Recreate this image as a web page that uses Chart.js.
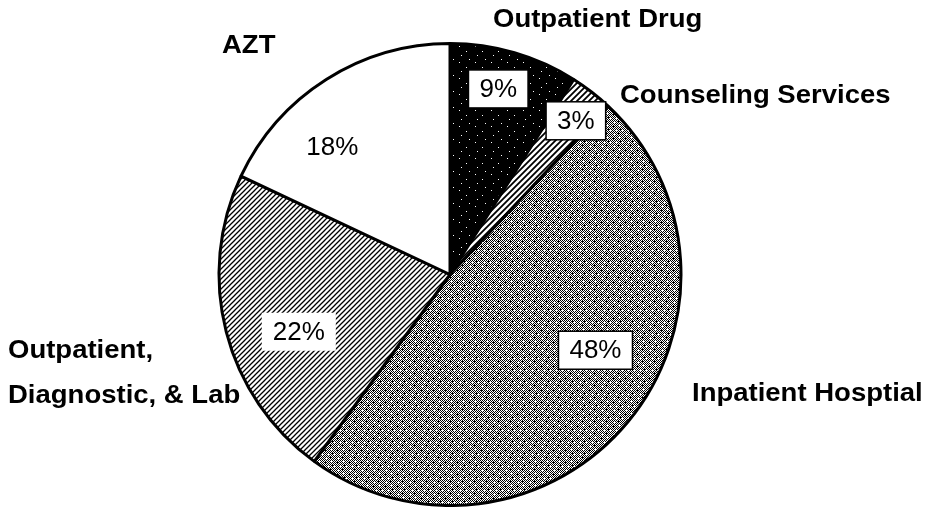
<!DOCTYPE html>
<html>
<head>
<meta charset="utf-8">
<script src="https://cdn.jsdelivr.net/npm/chart.js@4/dist/chart.umd.min.js"></script>
<style>
  html, body { margin: 0; padding: 0; background: #fff; }
  #chart { display: block; }
</style>
</head>
<body>
<canvas id="chart" width="936" height="507"></canvas>
<script>
// Slices clockwise from 12 o'clock
const categories = ['Outpatient Drug', 'Counseling Services', 'Inpatient Hosptial', 'Outpatient, Diagnostic, & Lab', 'AZT'];
const shares = [9, 3, 48, 22, 18];
const percentLabels = ['9%', '3%', '48%', '22%', '18%'];

function makeTile(size, draw) {
  const c = document.createElement('canvas');
  c.width = size;
  c.height = size;
  const g = c.getContext('2d');
  draw(g, size);
  return g.createPattern(c, 'repeat');
}

// black fill with a few white specks
const blackFill = makeTile(16, function (g, s) {
  g.fillStyle = '#000';
  g.fillRect(0, 0, s, s);
  g.fillStyle = '#fff';
  [[2, 3], [13, 7], [5, 11], [11, 14]].forEach(function (p) {
    g.fillRect(p[0], p[1], 1, 1);
  });
});

// dense diagonal hatch
function hatch(step, width) {
  return makeTile(step, function (g, s) {
    g.fillStyle = '#fff';
    g.fillRect(0, 0, s, s);
    g.strokeStyle = '#000';
    g.lineWidth = width;
    g.beginPath();
    g.moveTo(-1, s + 1);
    g.lineTo(s + 1, -1);
    g.moveTo(-1, 1);
    g.lineTo(1, -1);
    g.moveTo(s - 1, s + 1);
    g.lineTo(s + 1, s - 1);
    g.stroke();
  });
}

// grey stipple: checkerboard with a few darker and white spots
const greyFill = makeTile(12, function (g, s) {
  g.fillStyle = '#fff';
  g.fillRect(0, 0, s, s);
  g.fillStyle = '#000';
  for (let y = 0; y < s; y++) {
    for (let x = 0; x < s; x++) {
      if ((x + y) % 2 === 0) g.fillRect(x, y, 1, 1);
    }
  }
  [[1, 6], [6, 1], [8, 9]].forEach(function (p) {
    g.fillRect(p[0], p[1], 1, 1);
  });
  g.fillStyle = '#fff';
  [[2, 2], [7, 5], [4, 10], [10, 10]].forEach(function (p) {
    g.fillRect(p[0], p[1], 1, 1);
  });
});

const fills = [blackFill, hatch(6, 1.8), greyFill, hatch(5, 1.3), '#ffffff'];

// where each percent label sits: fraction along the slice, fraction of radius, box style
const labelPlacement = [
  { t: 0.45, r: 0.83, box: 'border' },
  { t: 0.64, r: 0.86, box: 'border' },
  { t: 0.43, r: 0.71, box: 'border' },
  { t: 0.42, r: 0.70, box: 'plain' },
  { t: 0.34, r: 0.75, box: 'none' },
];

const outerLabels = [
  { lines: ['Outpatient Drug'], x: 493, y: 27 },
  { lines: ['Counseling Services'], x: 620, y: 103 },
  { lines: ['Inpatient Hosptial'], x: 692, y: 401 },
  { lines: ['Outpatient,', 'Diagnostic, & Lab'], x: 8, y: 358, gap: 45 },
  { lines: ['AZT'], x: 222, y: 53 },
];

function stretchedText(ctx, text, x, y, sx) {
  ctx.save();
  ctx.translate(x, y);
  ctx.scale(sx, 1);
  ctx.fillText(text, 0, 0);
  ctx.restore();
}

const labelPlugin = {
  id: 'sliceLabels',
  afterDatasetsDraw(chart) {
    const ctx = chart.ctx;
    const arcs = chart.getDatasetMeta(0).data;
    ctx.save();
    ctx.font = '26px "Liberation Sans", Arial, sans-serif';
    ctx.textAlign = 'center';
    ctx.textBaseline = 'middle';
    arcs.forEach(function (arc, i) {
      const p = labelPlacement[i];
      const a = arc.startAngle + (arc.endAngle - arc.startAngle) * p.t;
      const rad = arc.outerRadius * p.r;
      const x = arc.x + Math.cos(a) * rad;
      const y = arc.y + Math.sin(a) * rad;
      const w = ctx.measureText(percentLabels[i]).width + 22;
      const h = 38;
      if (p.box !== 'none') {
        ctx.fillStyle = '#fff';
        ctx.fillRect(x - w / 2, y - h / 2, w, h);
        if (p.box === 'border') {
          ctx.strokeStyle = '#000';
          ctx.lineWidth = 1.5;
          ctx.strokeRect(x - w / 2, y - h / 2, w, h);
        }
      }
      ctx.fillStyle = '#000';
      ctx.fillText(percentLabels[i], x, y + 1);
    });

    ctx.font = 'bold 25px "Liberation Sans", Arial, sans-serif';
    ctx.textAlign = 'left';
    ctx.textBaseline = 'alphabetic';
    outerLabels.forEach(function (l) {
      l.lines.forEach(function (line, k) {
        stretchedText(ctx, line, l.x, l.y + k * (l.gap || 0), 1.1);
      });
    });
    ctx.restore();
  }
};

new Chart(document.getElementById('chart'), {
  type: 'pie',
  data: {
    labels: categories,
    datasets: [{
      data: shares,
      backgroundColor: fills,
      borderColor: '#000',
      borderWidth: 3,
    }],
  },
  options: {
    responsive: false,
    animation: false,
    layout: { padding: { left: 0, right: 36, top: 42, bottom: 0 } },
    plugins: {
      legend: { display: false },
      tooltip: { enabled: false },
    },
  },
  plugins: [labelPlugin],
});
</script>
</body>
</html>
